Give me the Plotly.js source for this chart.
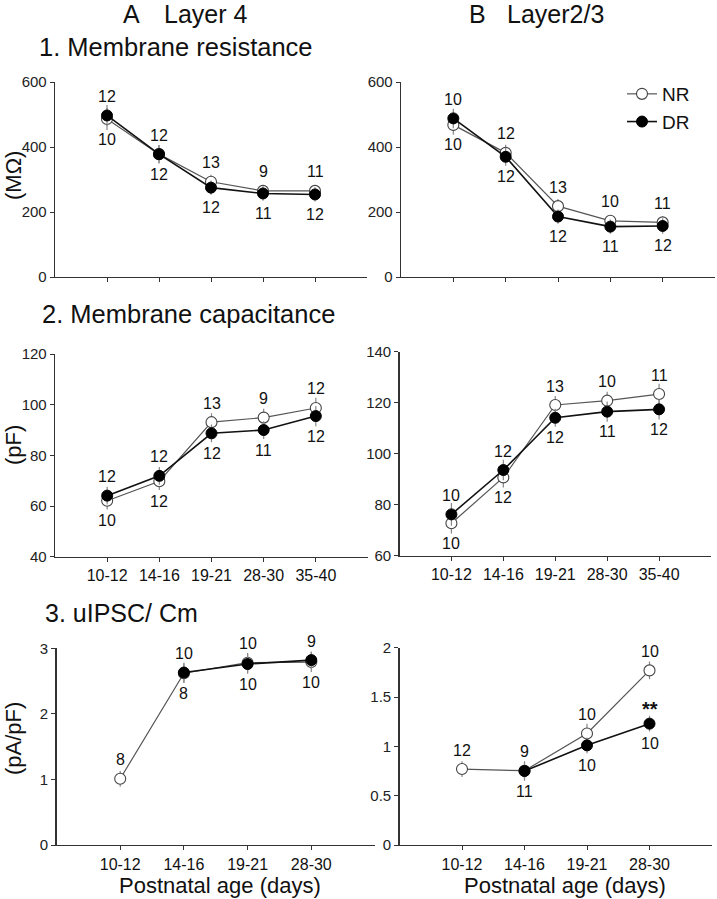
<!DOCTYPE html>
<html><head><meta charset="utf-8">
<script src="https://cdn.plot.ly/plotly-3.0.1.min.js"></script>
<style>html,body{margin:0;padding:0;background:#fff}#chart{width:717px;height:899px}</style>
</head><body><div id="chart"></div>
<script>
// ---------------- data ----------------
const ages5 = ['10-12', '14-16', '19-21', '28-30', '35-40'];
const ages4 = ['10-12', '14-16', '19-21', '28-30'];

// 1. Membrane resistance (MΩ)
const resL4_NR = [486, 378, 293, 265, 265];
const resL4_DR = [497, 378, 275, 257, 254];
const resL4_NRerr = [34, 28, 22, 18, 18];
const resL4_DRerr = [32, 28, 22, 22, 22];
const resL4_nTop = ['12', '12', '13', '9', '11'];
const resL4_nBot = ['10', '12', '12', '11', '12'];

const resL23_NR = [468, 382, 218, 173, 168];
const resL23_DR = [488, 370, 186, 155, 157];
const resL23_NRerr = [30, 25, 22, 18, 18];
const resL23_DRerr = [30, 28, 22, 22, 24];
const resL23_nTop = ['10', '12', '13', '10', '11'];
const resL23_nBot = ['10', '12', '12', '11', '12'];

// 2. Membrane capacitance (pF)
const capL4_NR = [62.1, 69.8, 93.1, 94.9, 98.7];
const capL4_DR = [64.1, 71.9, 88.7, 90.0, 95.5];
const capL4_NRerr = [3.5, 3.5, 3.5, 3.5, 4.0];
const capL4_DRerr = [3.5, 3.5, 3.5, 3.5, 4.0];
const capL4_nTop = ['12', '12', '13', '9', '12'];
const capL4_nBot = ['10', '12', '12', '11', '12'];

const capL23_NR = [72.7, 90.7, 119.1, 120.8, 123.4];
const capL23_DR = [76.2, 93.6, 114.1, 116.5, 117.4];
const capL23_NRerr = [4.0, 4.0, 3.5, 3.5, 4.0];
const capL23_DRerr = [4.5, 4.0, 3.5, 4.0, 4.0];
const capL23_nTop = ['10', '12', '13', '10', '11'];
const capL23_nBot = ['10', '12', '12', '11', '12'];

// 3. uIPSC / Cm (pA/pF)
const ipscL4_NR = [1.01, 2.62, 2.78, 2.79];
const ipscL4_DR = [null, 2.63, 2.76, 2.82];
const ipscL4_NRerr = [0.12, 0.15, 0.15, 0.15];
const ipscL4_DRerr = [null, 0.15, 0.15, 0.13];
const ipscL4_nTop = ['8', '10', '10', '9'];
const ipscL4_nBot = ['', '8', '10', '10'];

const ipscL23_NR = [0.77, 0.753, 1.13, 1.77];
const ipscL23_DR = [null, 0.75, 1.01, 1.23];
const ipscL23_NRerr = [0.08, 0.08, 0.1, 0.09];
const ipscL23_DRerr = [null, 0.1, 0.08, 0.08];
const ipscL23_nTop = ['12', '9', '10', '10'];
const ipscL23_nBot = ['', '11', '10', '10'];
const ipscL23_sig = ['', '', '', '**'];

// ---------------- layout helpers ----------------
const W = 717, H = 899;
const fx = p => p / W;
const fy = p => 1 - p / H;
const FONT = 'Arial, "Liberation Sans", Helvetica, sans-serif';

const panels = [
  {id: '', cats: ages5, nr: resL4_NR, dr: resL4_DR, nre: resL4_NRerr, dre: resL4_DRerr, top: resL4_nTop, bot: resL4_nBot,
   xd: [55, 367], yd: [277, 82], yr: [0, 600], dt: 200, xr: [-1, 5], lab: false},
  {id: '2', cats: ages5, nr: resL23_NR, dr: resL23_DR, nre: resL23_NRerr, dre: resL23_DRerr, top: resL23_nTop, bot: resL23_nBot,
   xd: [401, 715], yd: [277, 82], yr: [0, 600], dt: 200, xr: [-1, 5], lab: false},
  {id: '3', cats: ages5, nr: capL4_NR, dr: capL4_DR, nre: capL4_NRerr, dre: capL4_DRerr, top: capL4_nTop, bot: capL4_nBot,
   xd: [55, 368], yd: [556.7, 354], yr: [40, 120], dt: 20, xr: [-1, 5], lab: true},
  {id: '4', cats: ages5, nr: capL23_NR, dr: capL23_DR, nre: capL23_NRerr, dre: capL23_DRerr, top: capL23_nTop, bot: capL23_nBot,
   xd: [399.5, 711], yd: [555.7, 351.7], yr: [60, 140], dt: 20, xr: [-1, 5], lab: true},
  {id: '5', cats: ages4, nr: ipscL4_NR, dr: ipscL4_DR, nre: ipscL4_NRerr, dre: ipscL4_DRerr, top: ipscL4_nTop, bot: ipscL4_nBot,
   xd: [56.5, 375], yd: [845, 648.3], yr: [0, 3], dt: 1, xr: [-1, 4], lab: true},
  {id: '6', cats: ages4, nr: ipscL23_NR, dr: ipscL23_DR, nre: ipscL23_NRerr, dre: ipscL23_DRerr, top: ipscL23_nTop, bot: ipscL23_nBot,
   xd: [399.5, 712], yd: [845, 647.7], yr: [0, 2], dt: 0.5, xr: [-1, 4], lab: true, sig: ipscL23_sig}
];

const traces = [];
const annotations = [];
const layout = {
  width: W, height: H,
  margin: {l: 0, r: 0, t: 0, b: 0},
  paper_bgcolor: '#fff', plot_bgcolor: '#fff',
  font: {family: FONT, color: '#111'},
  showlegend: true,
  legend: {x: fx(622), y: fy(75), xanchor: 'left', yanchor: 'top', font: {size: 19, family: FONT, color: '#111'},
           bgcolor: 'rgba(0,0,0,0)', itemwidth: 30, tracegroupgap: 0},
  annotations: annotations
};

panels.forEach((p, k) => {
  const xa = 'x' + p.id, ya = 'y' + p.id;
  const xkey = 'xaxis' + p.id, ykey = 'yaxis' + p.id;
  layout[xkey] = {
    type: 'category', categoryorder: 'array', categoryarray: p.cats,
    domain: [fx(p.xd[0]), fx(p.xd[1])], range: p.xr, anchor: ya,
    showline: true, linecolor: '#333', linewidth: 1.3, mirror: false,
    ticks: 'outside', ticklen: 4, tickcolor: '#333', tickwidth: 1,
    showgrid: false, zeroline: false, showticklabels: p.lab,
    tickfont: {size: 16, color: '#111', family: FONT}, fixedrange: true
  };
  layout[ykey] = {
    domain: [fy(p.yd[0]), fy(p.yd[1])], range: p.yr, anchor: xa,
    tick0: p.yr[0], dtick: p.dt,
    showline: true, linecolor: '#333', linewidth: 1.3,
    ticks: 'outside', ticklen: 4, tickcolor: '#333', tickwidth: 1,
    showgrid: false, zeroline: false,
    tickfont: {size: 15, color: '#222', family: FONT}, fixedrange: true
  };
  traces.push({
    type: 'scatter', mode: 'lines+markers', name: 'NR', x: p.cats, y: p.nr,
    xaxis: xa, yaxis: ya, showlegend: k === 1, legendgroup: 'NR',
    line: {color: '#555', width: 1.2},
    marker: {symbol: 'circle', size: 11, color: '#fff', line: {color: '#444', width: 1.1}},
    error_y: {type: 'data', array: p.nre, visible: true, color: '#888', thickness: 1.2, width: 0},
    connectgaps: false, cliponaxis: false
  });
  traces.push({
    type: 'scatter', mode: 'lines+markers', name: 'DR', x: p.cats, y: p.dr,
    xaxis: xa, yaxis: ya, showlegend: k === 1, legendgroup: 'DR',
    line: {color: '#111', width: 1.6},
    marker: {symbol: 'circle', size: 11, color: '#000', line: {color: '#000', width: 1}},
    error_y: {type: 'data', array: p.dre, visible: true, color: '#888', thickness: 1.2, width: 0},
    connectgaps: false, cliponaxis: false
  });
  p.cats.forEach((c, i) => {
    const vals = [p.nr[i], p.dr[i]].filter(v => v !== null && v !== undefined);
    const hi = Math.max(...vals), lo = Math.min(...vals);
    if (p.top[i]) annotations.push({xref: xa, yref: ya, x: c, y: hi, text: p.top[i], showarrow: false,
      yshift: 19, yanchor: 'middle', font: {size: 16, color: '#111', family: FONT}});
    if (p.bot[i]) annotations.push({xref: xa, yref: ya, x: c, y: lo, text: p.bot[i], showarrow: false,
      yshift: -20, yanchor: 'middle', font: {size: 16, color: '#111', family: FONT}});
    if (p.sig && p.sig[i]) annotations.push({xref: xa, yref: ya, x: c, y: p.dr[i], text: '<b>' + p.sig[i] + '</b>', showarrow: false,
      yshift: 15, yanchor: 'middle', font: {size: 20, color: '#111', family: FONT}});
  });
});

// Titles and axis titles
function txt(text, x, y, size, opts) {
  annotations.push(Object.assign({xref: 'paper', yref: 'paper', x: fx(x), y: fy(y), text: text, showarrow: false,
    xanchor: 'center', yanchor: 'middle', font: {size: size, color: '#111', family: FONT}}, opts || {}));
}
txt('A', 131, 14, 25);
txt('Layer 4', 162, 14, 25, {xanchor: 'left'});
txt('B', 477, 14, 25);
txt('Layer2/3', 505, 14, 25, {xanchor: 'left'});
txt('1. Membrane resistance', 37, 47, 25.5, {xanchor: 'left'});
txt('2. Membrane capacitance', 40, 314, 25.5, {xanchor: 'left'});
txt('3. uIPSC/ Cm', 43, 613, 25, {xanchor: 'left'});
txt('(MΩ)', 13, 175, 22, {textangle: -90});
txt('(pF)', 13, 445, 22, {textangle: -90});
txt('(pA/pF)', 13, 739, 22, {textangle: -90});
txt('Postnatal age (days)', 220, 885, 22);
txt('Postnatal age (days)', 565, 885, 22);

Plotly.newPlot('chart', traces, layout, {staticPlot: true, displayModeBar: false});
</script>
</body></html>
